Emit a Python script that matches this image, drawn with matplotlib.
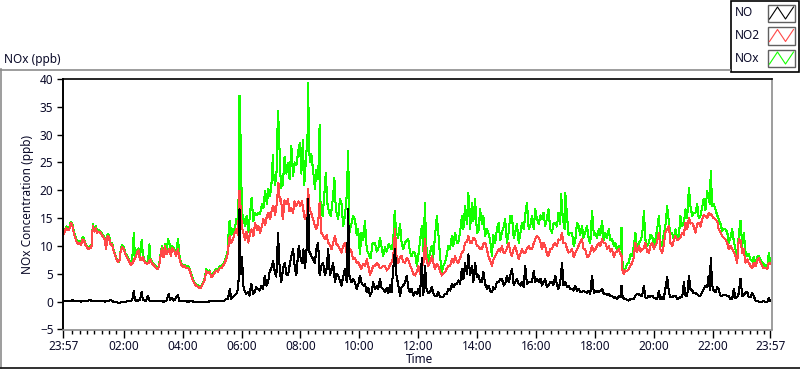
import numpy as np
import matplotlib
matplotlib.use("Agg")
import matplotlib.pyplot as plt
from matplotlib.patches import Rectangle

plt.rcParams['font.family'] = ['Noto Sans', 'DejaVu Sans']

# ---- data: (hours since 23:57, ppb) ----
NO_DATA = [
 (0.0,0.0),(0.1,0.2),(0.2,0.1),(0.3,0.25),(0.4,0.1),(0.5,0.15),(0.6,0.0),(0.7,0.2),(0.8,0.1),(0.9,0.3),
 (1.0,0.05),(1.1,0.2),(1.2,0.1),(1.3,0.2),(1.4,0.0),(1.5,0.1),(1.6,0.3),(1.7,0.0),(1.8,-0.1),(1.9,-0.25),
 (2.0,0.0),(2.1,-0.1),(2.2,0.2),(2.3,0.1),(2.35,0.6),(2.39,2.0),(2.43,0.3),(2.5,0.1),(2.6,0.4),(2.66,1.7),
 (2.7,0.3),(2.8,0.1),(2.87,1.1),(2.92,0.2),(3.0,0.05),(3.1,0.1),(3.2,0.2),(3.3,0.1),(3.4,0.0),(3.5,0.2),
 (3.55,0.9),(3.58,1.4),(3.62,0.3),(3.7,0.6),(3.75,0.2),(3.8,0.5),(3.89,1.2),(3.93,0.2),
 (4.0,0.1),(4.12,0.1),(4.23,0.0),(4.34,0.1),(4.46,-0.05),(4.57,0.0),(4.68,-0.1),(4.8,-0.1),(4.91,0.0),
 (5.02,0.1),(5.14,0.1),(5.25,0.15),(5.36,0.1),(5.48,0.2),(5.53,0.5),(5.59,0.5),(5.65,2.3),(5.70,0.5),
 (5.81,1.1),(5.87,1.4),(5.93,2.3),(5.96,5.0),(5.98,16.6),(6.0,9.4),(6.04,5.0),(6.07,8.0),(6.1,3.0),
 (6.15,2.0),(6.21,1.4),(6.26,1.7),(6.32,1.1),(6.38,3.2),(6.44,1.4),(6.49,1.7),(6.55,2.6),(6.61,2.3),
 (6.67,2.0),(6.72,2.9),(6.78,2.3),(6.84,4.7),(6.89,2.9),(6.95,3.5),(7.0,5.3),(7.06,6.0),(7.12,7.3),
 (7.18,5.3),(7.23,4.5),(7.29,12.4),(7.32,8.0),(7.36,5.0),(7.4,3.5),(7.46,6.0),(7.52,7.0),(7.57,5.0),
 (7.63,4.7),(7.68,6.5),(7.74,8.2),(7.8,9.4),(7.86,6.0),(7.91,4.7),(7.99,10.0),
 (8.05,8.0),(8.1,7.0),(8.15,9.4),(8.2,6.0),(8.25,8.5),(8.31,18.5),(8.35,9.0),(8.42,8.2),(8.48,7.6),
 (8.54,7.0),(8.59,9.5),(8.65,10.6),(8.7,4.7),(8.76,6.5),(8.82,7.0),(8.88,4.7),(8.94,6.0),(8.99,9.4),
 (9.05,4.7),(9.1,5.5),(9.16,7.0),(9.22,3.5),(9.27,5.0),(9.33,4.7),(9.39,3.8),(9.44,2.9),(9.5,4.5),
 (9.56,5.9),(9.62,3.5),(9.67,16.6),(9.71,4.7),(9.78,3.5),(9.84,4.0),(9.9,3.5),(9.96,2.3),(10.01,3.0),
 (10.07,4.7),(10.12,3.5),(10.18,2.9),(10.24,3.2),(10.3,1.7),(10.35,2.5),(10.41,1.1),(10.46,1.6),
 (10.52,3.5),(10.58,2.3),(10.64,2.8),(10.69,2.3),(10.75,4.1),(10.8,2.5),(10.86,2.3),(10.92,1.7),
 (10.98,2.5),(11.03,1.5),(11.09,3.0),(11.14,1.7),(11.2,5.9),(11.26,9.4),(11.31,4.7),(11.37,3.0),
 (11.43,1.1),(11.48,2.5),(11.54,2.9),(11.6,3.5),(11.66,4.7),(11.71,2.5),(11.77,1.7),(11.82,2.3),
 (11.88,1.1),(11.94,1.7),(12.0,1.4),
 (12.05,2.3),(12.11,1.1),(12.17,7.9),(12.22,1.1),(12.28,6.4),(12.33,2.3),(12.39,1.5),(12.45,1.7),
 (12.51,2.6),(12.56,1.5),(12.62,1.0),(12.68,1.1),(12.73,1.7),(12.79,0.8),(12.85,0.8),(12.9,0.9),
 (12.96,1.4),(13.02,1.4),(13.07,2.3),(13.13,2.0),(13.19,3.2),(13.24,2.6),(13.3,3.2),(13.36,3.2),
 (13.41,3.8),(13.47,3.2),(13.53,5.9),(13.58,4.0),(13.64,7.0),(13.7,5.0),(13.75,8.5),(13.81,4.7),
 (13.87,6.4),(13.92,3.5),(13.98,7.0),(14.04,4.4),(14.09,4.7),(14.15,3.5),(14.21,3.5),(14.26,5.3),
 (14.32,3.2),(14.38,2.3),(14.43,2.9),(14.49,2.0),(14.55,1.7),(14.6,2.6),(14.66,2.3),(14.72,3.5),
 (14.78,3.5),(14.83,4.1),(14.89,4.1),(14.95,2.9),(15.0,3.2),(15.06,4.7),(15.12,3.5),(15.17,4.6),
 (15.23,5.9),(15.29,3.0),(15.34,3.5),(15.4,4.1),(15.46,3.2),(15.51,2.9),(15.57,3.5),(15.63,2.6),
 (15.68,6.4),(15.74,3.2),(15.8,3.5),(15.85,3.5),(15.91,3.5),(15.97,5.5),(16.02,3.5),(16.08,4.1),
 (16.14,3.5),
 (16.2,4.1),(16.25,2.9),(16.3,3.5),(16.36,4.1),(16.42,2.6),(16.47,2.9),(16.53,3.5),(16.59,3.5),
 (16.64,3.0),(16.7,4.7),(16.76,2.9),(16.81,2.3),(16.87,3.5),(16.93,7.0),(16.98,3.0),(17.04,3.5),
 (17.1,2.6),(17.15,2.9),(17.21,2.2),(17.27,2.3),(17.33,2.0),(17.38,2.9),(17.44,2.0),(17.49,2.3),
 (17.55,1.8),(17.61,1.7),(17.66,2.0),(17.72,1.7),(17.78,1.6),(17.84,2.0),(17.89,1.4),(17.95,4.7),
 (18.01,1.6),(18.06,1.7),(18.12,2.0),(18.18,1.7),(18.23,1.9),(18.29,2.3),(18.35,1.4),(18.4,1.4),
 (18.46,1.2),(18.52,1.4),(18.57,1.0),(18.63,1.1),(18.69,0.6),(18.74,0.8),(18.8,0.5),(18.86,1.1),
 (18.92,0.8),(18.95,2.9),(18.99,0.8),(19.04,0.5),(19.08,0.5),(19.14,0.3),(19.2,0.2),(19.25,0.5),
 (19.31,0.5),(19.37,0.4),(19.42,1.1),(19.48,1.4),(19.54,1.3),(19.6,1.1),(19.65,1.0),(19.71,2.9),
 (19.76,0.8),(19.82,0.6),(19.88,1.1),(19.93,0.9),(19.99,1.1),(20.05,0.6),(20.1,0.7),(20.16,0.4),
 (20.22,1.9),
 (20.27,0.5),(20.33,0.8),(20.38,0.4),(20.44,2.3),(20.5,4.4),(20.56,1.7),(20.61,0.8),(20.67,0.8),
 (20.73,1.1),(20.78,1.1),(20.84,0.5),(20.9,0.6),(20.95,0.8),(21.01,0.8),(21.07,3.5),(21.12,1.1),
 (21.18,1.0),(21.24,4.7),(21.29,2.3),(21.35,2.0),(21.4,1.5),(21.46,1.5),(21.52,1.4),(21.57,1.1),
 (21.63,1.1),(21.69,1.7),(21.74,2.3),(21.8,2.9),(21.86,2.6),(21.91,4.7),(21.95,2.0),(21.98,7.9),
 (22.03,2.9),(22.08,2.0),(22.14,1.7),(22.2,2.6),(22.25,2.2),(22.31,1.1),(22.37,1.1),(22.42,1.2),
 (22.48,1.2),(22.54,1.0),(22.59,1.0),(22.65,0.5),(22.71,0.5),(22.76,2.3),(22.82,0.6),(22.88,0.8),
 (22.93,1.5),(22.99,4.1),(23.05,1.0),(23.1,1.1),(23.16,1.7),(23.22,1.7),(23.27,0.8),(23.33,0.8),
 (23.39,1.5),(23.44,1.0),(23.5,0.2),(23.56,0.1),(23.61,0.0),(23.67,0.0),(23.73,0.0),(23.78,0.1),
 (23.84,-0.1),(23.9,0.0),(23.95,0.6),(24.0,0.2),
]

NO2_DATA = [
 (0.0,12.0),(0.05,12.6),(0.1,13.2),(0.15,12.8),(0.2,13.0),(0.25,14.1),(0.3,13.8),(0.35,12.4),(0.4,11.5),
 (0.45,10.8),(0.5,10.3),(0.55,10.6),(0.6,10.2),(0.65,11.2),(0.7,11.0),(0.75,10.2),(0.8,9.8),(0.85,9.4),
 (0.9,9.7),(0.95,9.6),(1.0,13.6),(1.05,12.6),(1.1,13.2),(1.15,12.4),(1.2,12.6),(1.25,12.4),(1.3,12.0),
 (1.35,11.6),(1.4,11.2),(1.45,9.5),(1.5,11.8),(1.55,11.5),(1.6,10.2),(1.65,10.4),(1.7,9.2),(1.75,8.4),
 (1.8,7.6),(1.85,7.2),(1.9,7.3),(1.95,9.3),(2.0,9.8),(2.05,9.4),(2.1,8.6),(2.15,8.0),(2.2,7.6),(2.25,7.0),
 (2.3,6.6),(2.35,7.0),(2.4,7.5),(2.45,8.0),(2.5,8.8),(2.55,9.2),(2.6,7.5),(2.65,7.4),(2.7,8.0),(2.75,7.2),
 (2.8,6.9),(2.85,6.8),(2.9,7.0),(2.95,7.6),(3.0,7.0),(3.05,6.6),(3.1,6.4),(3.15,6.0),(3.2,5.8),(3.25,6.4),
 (3.3,8.2),(3.35,9.6),(3.4,8.0),(3.45,10.0),(3.5,8.5),(3.55,9.0),(3.6,9.5),(3.65,8.2),(3.7,9.6),
 (3.78,9.0),(3.83,8.2),(3.89,9.5),(3.95,7.5),(4.0,6.7),(4.06,6.2),(4.12,6.4),(4.17,6.0),(4.23,6.1),
 (4.29,5.6),(4.34,4.7),(4.4,3.8),(4.46,3.2),(4.51,2.8),(4.57,2.7),(4.63,2.4),(4.68,2.6),(4.74,3.2),
 (4.8,4.0),(4.85,5.5),(4.91,5.2),(4.97,5.3),(5.02,4.4),(5.08,4.7),(5.14,5.2),(5.19,5.6),(5.25,5.4),
 (5.31,6.1),(5.36,6.0),(5.42,6.4),(5.48,7.0),(5.53,7.6),(5.59,8.8),(5.62,11.0),(5.65,11.8),(5.7,10.5),
 (5.76,11.2),(5.81,12.2),(5.87,13.0),(5.93,12.0),(5.98,19.9),(6.01,17.5),(6.06,13.5),(6.11,12.4),
 (6.17,11.0),(6.22,12.6),(6.28,10.6),(6.34,12.4),(6.39,13.0),(6.45,11.8),(6.51,14.2),(6.57,12.8),
 (6.62,13.6),(6.68,12.4),(6.74,13.6),(6.79,14.8),(6.85,13.8),(6.91,15.4),(6.96,16.0),(7.02,14.8),
 (7.08,16.6),(7.13,17.2),(7.19,15.6),(7.25,17.8),(7.3,21.4),(7.35,18.0),(7.39,18.4),(7.45,14.8),
 (7.51,18.2),(7.57,17.5),(7.62,18.4),(7.68,16.2),(7.74,16.8),(7.8,16.0),(7.85,18.0),(7.91,17.2),
 (7.99,18.0),
 (8.05,17.2),(8.1,18.0),(8.15,16.4),(8.2,14.8),(8.25,15.2),(8.31,20.2),(8.36,16.6),(8.42,15.8),
 (8.48,14.8),(8.54,13.6),(8.59,13.0),(8.65,14.2),(8.7,17.8),(8.76,12.4),(8.82,11.8),(8.88,11.2),
 (8.94,12.0),(8.99,10.6),(9.05,10.2),(9.1,9.4),(9.16,10.6),(9.22,11.8),(9.27,10.4),(9.33,10.0),
 (9.39,9.4),(9.44,8.8),(9.5,10.0),(9.56,10.6),(9.62,8.6),(9.67,8.2),(9.73,9.4),(9.78,9.0),(9.84,7.6),
 (9.9,7.8),(9.96,7.0),(10.01,7.2),(10.07,6.4),(10.12,5.9),(10.18,6.8),(10.24,6.4),(10.3,7.6),
 (10.35,6.5),(10.41,4.8),(10.46,5.5),(10.52,6.4),(10.58,6.4),(10.64,7.0),(10.69,6.7),(10.75,6.0),
 (10.8,6.1),(10.86,6.4),(10.92,6.4),(10.98,5.6),(11.03,5.9),(11.09,6.6),(11.14,7.0),(11.2,8.0),
 (11.26,13.0),(11.31,8.2),(11.37,7.0),(11.43,8.0),(11.48,8.2),(11.54,7.2),(11.6,7.0),(11.66,7.8),
 (11.71,7.6),(11.77,6.5),(11.82,5.9),(11.88,5.0),(11.94,4.7),(12.0,5.3),
 (12.05,6.4),(12.11,5.0),(12.17,7.0),(12.22,6.5),(12.28,11.2),(12.33,7.6),(12.39,6.4),(12.45,7.0),
 (12.51,8.2),(12.56,7.0),(12.62,5.9),(12.68,6.8),(12.73,6.4),(12.79,5.4),(12.85,4.7),(12.9,5.0),
 (12.96,5.3),(13.02,6.0),(13.07,6.4),(13.13,6.4),(13.19,7.6),(13.24,7.0),(13.3,8.2),(13.36,7.2),
 (13.41,7.0),(13.47,7.8),(13.53,8.8),(13.58,9.0),(13.64,10.6),(13.7,10.8),(13.75,11.8),(13.81,10.5),
 (13.87,10.6),(13.92,11.5),(13.98,11.2),(14.04,10.0),(14.09,10.0),(14.15,9.4),(14.21,9.4),
 (14.26,10.4),(14.32,10.6),(14.38,9.4),(14.43,8.2),(14.49,7.4),(14.55,6.4),(14.6,7.5),(14.66,8.2),
 (14.72,8.8),(14.78,9.4),(14.83,9.0),(14.89,10.0),(14.95,8.8),(15.0,8.8),(15.06,9.6),(15.12,10.6),
 (15.17,9.0),(15.23,8.2),(15.29,9.5),(15.34,10.0),(15.4,8.8),(15.46,7.6),(15.51,8.5),(15.57,9.4),
 (15.63,8.8),(15.68,8.8),(15.74,9.5),(15.8,10.0),(15.85,9.4),(15.91,9.4),(15.97,10.5),(16.02,11.2),
 (16.08,11.8),(16.14,11.5),
 (16.2,10.6),(16.25,9.4),(16.3,10.6),(16.36,10.0),(16.42,8.5),(16.47,8.2),(16.53,9.4),(16.59,9.4),
 (16.64,10.2),(16.7,10.6),(16.76,10.0),(16.81,11.2),(16.87,11.0),(16.93,12.4),(16.98,10.5),
 (17.04,10.6),(17.1,9.5),(17.15,8.8),(17.21,9.0),(17.27,9.4),(17.33,8.0),(17.38,8.8),(17.44,9.4),
 (17.49,10.0),(17.55,10.8),(17.61,11.2),(17.66,9.5),(17.72,9.4),(17.78,8.0),(17.84,8.2),(17.89,8.8),
 (17.95,10.0),(18.01,9.0),(18.06,9.4),(18.12,10.0),(18.18,10.6),(18.23,10.0),(18.29,11.2),
 (18.35,10.5),(18.4,10.6),(18.46,9.5),(18.52,10.0),(18.57,9.0),(18.63,9.4),(18.69,8.0),(18.74,8.8),
 (18.8,9.0),(18.86,9.4),(18.92,8.5),(18.95,8.2),(18.99,5.3),(19.04,5.0),(19.08,5.6),(19.14,5.5),
 (19.2,5.9),(19.25,6.4),(19.31,7.0),(19.37,8.0),(19.42,10.6),(19.48,9.0),(19.54,10.0),(19.6,9.0),
 (19.65,9.4),(19.71,9.6),(19.76,10.6),(19.82,9.0),(19.88,8.8),(19.93,10.0),(19.99,10.6),(20.05,9.5),
 (20.1,10.0),(20.16,10.8),(20.22,12.4),
 (20.27,9.4),(20.33,8.8),(20.38,10.0),(20.44,12.4),(20.5,13.0),(20.56,13.6),(20.61,10.6),(20.67,10.0),
 (20.73,11.0),(20.78,11.8),(20.84,11.0),(20.9,11.2),(20.95,11.5),(21.01,12.4),(21.07,12.0),
 (21.12,14.2),(21.18,13.0),(21.24,15.1),(21.29,14.0),(21.35,14.2),(21.4,13.5),(21.46,12.4),
 (21.52,14.0),(21.57,14.2),(21.63,13.5),(21.69,14.8),(21.74,15.5),(21.8,15.4),(21.86,15.0),
 (21.91,16.0),(21.95,15.5),(21.98,15.8),(22.03,15.4),(22.08,15.0),(22.14,14.8),(22.2,14.5),
 (22.25,13.0),(22.31,12.4),(22.37,11.8),(22.42,11.5),(22.48,11.2),(22.54,10.6),(22.59,9.4),
 (22.65,10.0),(22.71,9.4),(22.76,9.0),(22.82,8.2),(22.88,7.0),(22.93,11.2),(22.99,11.0),(23.05,8.8),
 (23.1,9.4),(23.16,7.0),(23.22,7.6),(23.27,7.0),(23.33,6.4),(23.39,6.0),(23.44,7.0),(23.5,6.4),
 (23.56,7.4),(23.61,7.8),(23.67,7.0),(23.73,6.4),(23.78,6.0),(23.84,6.0),(23.9,5.9),(23.95,7.0),
 (24.0,6.8),
]

NOX_DATA = [
 (0.0,12.3),(0.05,12.9),(0.1,13.5),(0.15,13.1),(0.2,13.4),(0.25,14.4),(0.3,14.1),(0.35,12.7),(0.4,11.8),
 (0.45,11.0),(0.5,10.6),(0.55,10.9),(0.6,10.4),(0.65,11.6),(0.7,11.3),(0.75,10.5),(0.8,10.0),(0.85,9.7),
 (0.9,10.0),(0.95,9.9),(1.0,13.9),(1.05,13.0),(1.1,13.6),(1.15,12.7),(1.2,12.9),(1.25,12.6),(1.3,12.3),
 (1.35,11.9),(1.4,11.4),(1.45,9.8),(1.5,12.2),(1.55,11.8),(1.6,10.6),(1.65,10.6),(1.7,9.4),(1.75,8.6),
 (1.8,7.7),(1.85,7.1),(1.9,7.2),(1.95,9.5),(2.0,10.2),(2.05,9.8),(2.1,8.8),(2.15,8.3),(2.2,7.9),
 (2.25,7.3),(2.3,7.0),(2.35,8.5),(2.39,12.4),(2.43,8.0),(2.5,9.2),(2.55,9.6),(2.6,8.0),(2.66,11.1),
 (2.7,8.5),(2.75,7.4),(2.8,7.1),(2.85,7.0),(2.9,8.5),(2.92,10.3),(2.95,7.9),(3.0,7.2),(3.05,6.8),
 (3.1,6.6),(3.15,6.2),(3.2,6.0),(3.25,6.6),(3.3,8.6),(3.35,10.0),(3.4,8.3),(3.45,10.4),(3.5,8.8),
 (3.55,11.2),(3.6,10.5),(3.65,8.5),(3.7,10.0),
 (3.78,9.3),(3.83,8.5),(3.89,11.3),(3.95,7.8),(4.0,7.0),(4.06,6.5),(4.12,6.6),(4.17,6.2),(4.23,6.4),
 (4.29,5.9),(4.34,5.0),(4.4,4.0),(4.46,3.4),(4.51,3.0),(4.57,2.9),(4.63,2.6),(4.68,2.8),(4.74,3.4),
 (4.8,4.2),(4.85,5.8),(4.91,5.5),(4.97,5.6),(5.02,4.6),(5.08,5.0),(5.14,5.5),(5.19,5.9),(5.25,5.7),
 (5.31,6.4),(5.36,6.3),(5.42,6.7),(5.48,7.3),(5.53,8.0),(5.59,9.3),(5.62,14.2),(5.65,14.5),(5.7,12.0),
 (5.76,13.0),(5.81,12.5),(5.87,14.8),(5.93,14.0),(5.96,22.0),(5.98,37.0),(6.0,25.0),(6.02,30.0),
 (6.06,16.0),(6.11,15.0),(6.17,13.6),(6.22,15.4),(6.28,12.5),(6.34,16.0),(6.39,18.7),(6.45,14.5),
 (6.51,16.0),(6.57,15.5),(6.62,16.0),(6.68,15.8),(6.74,17.5),(6.79,16.8),(6.85,19.9),(6.91,17.5),
 (6.96,20.2),(7.02,19.0),(7.08,22.0),(7.11,26.4),(7.13,23.0),(7.19,21.0),(7.25,24.0),(7.28,34.2),
 (7.32,31.0),(7.35,25.0),(7.39,20.5),(7.45,21.0),(7.51,26.0),(7.57,23.0),(7.62,25.0),(7.68,22.0),
 (7.74,28.0),(7.8,22.5),(7.85,25.0),(7.91,24.5),(7.99,27.6),
 (8.03,28.5),(8.08,23.0),(8.13,29.0),(8.18,21.0),(8.24,26.0),(8.29,30.0),(8.31,39.3),(8.34,28.0),
 (8.37,25.0),(8.42,26.5),(8.48,23.5),(8.54,20.3),(8.59,23.7),(8.65,22.0),(8.7,31.8),(8.73,17.8),
 (8.8,15.4),(8.85,18.5),(8.91,23.2),(8.96,17.8),(9.02,16.0),(9.08,15.4),(9.16,19.0),(9.2,22.3),
 (9.25,16.6),(9.33,14.8),(9.39,18.5),(9.44,17.8),(9.5,13.6),(9.56,15.5),(9.62,19.0),(9.67,27.0),
 (9.71,12.4),(9.78,14.0),(9.84,15.4),(9.9,14.8),(9.96,12.0),(10.01,13.0),(10.07,8.5),(10.12,12.4),
 (10.18,11.0),(10.24,14.5),(10.3,9.4),(10.37,8.5),(10.43,7.8),(10.5,10.5),(10.58,10.6),(10.64,9.0),
 (10.69,9.4),(10.75,11.5),(10.8,10.0),(10.86,8.2),(10.92,9.8),(10.98,9.0),(11.05,10.4),(11.14,9.4),
 (11.2,11.0),(11.25,16.3),(11.3,12.4),(11.37,11.5),(11.43,14.0),(11.48,10.8),(11.54,9.4),(11.6,10.6),
 (11.66,11.0),(11.71,11.2),(11.77,8.8),(11.82,8.2),(11.88,9.0),(11.94,8.8),(12.0,6.4),
 (12.05,8.2),(12.11,11.0),(12.17,13.6),(12.22,9.0),(12.28,17.8),(12.31,10.6),(12.39,7.0),(12.45,9.0),
 (12.51,10.0),(12.56,8.0),(12.62,12.0),(12.68,15.4),(12.73,12.4),(12.79,8.0),(12.85,5.3),(12.9,6.5),
 (12.96,7.0),(13.02,8.5),(13.07,10.0),(13.13,9.5),(13.19,11.8),(13.24,10.0),(13.3,12.4),(13.36,10.6),
 (13.41,10.6),(13.47,12.5),(13.53,15.4),(13.58,13.0),(13.64,17.2),(13.7,14.0),(13.75,19.6),
 (13.81,13.0),(13.87,17.8),(13.92,14.5),(13.98,18.4),(14.04,12.4),(14.09,12.5),(14.15,16.6),
 (14.21,14.0),(14.26,15.4),(14.32,11.8),(14.38,13.0),(14.43,12.4),(14.49,11.0),(14.55,8.2),(14.6,12.0),
 (14.66,10.6),(14.72,13.0),(14.78,14.2),(14.83,11.0),(14.89,12.4),(14.95,13.5),(15.0,14.8),
 (15.06,10.5),(15.12,12.4),(15.17,15.4),(15.23,15.4),(15.29,11.5),(15.34,12.4),(15.4,14.0),
 (15.46,10.6),(15.51,12.0),(15.57,14.2),(15.63,13.0),(15.68,15.5),(15.74,17.8),(15.8,13.0),
 (15.85,13.6),(15.91,15.4),(15.97,13.0),(16.02,16.6),(16.08,14.8),(16.14,14.0),
 (16.2,15.5),(16.25,14.8),(16.3,16.0),(16.36,13.6),(16.42,15.0),(16.47,16.6),(16.53,13.0),(16.59,12.4),
 (16.64,14.0),(16.7,14.2),(16.76,13.5),(16.81,16.0),(16.87,14.0),(16.9,19.3),(16.96,14.8),(17.02,13.0),
 (17.04,19.6),(17.1,15.4),(17.15,12.0),(17.21,12.4),(17.27,12.4),(17.33,10.0),(17.38,11.0),
 (17.44,14.2),(17.49,13.6),(17.55,12.0),(17.61,13.6),(17.66,11.5),(17.72,12.4),(17.78,13.6),
 (17.84,11.2),(17.89,10.5),(17.95,16.3),(18.01,12.0),(18.06,12.4),(18.12,11.5),(18.18,13.0),
 (18.23,12.0),(18.29,14.5),(18.35,11.0),(18.4,12.4),(18.46,11.5),(18.52,13.0),(18.57,11.0),
 (18.63,11.2),(18.69,10.0),(18.74,10.6),(18.8,9.0),(18.86,10.0),(18.92,9.5),(18.95,13.3),(18.99,6.0),
 (19.04,5.9),(19.08,5.9),(19.14,6.8),(19.2,7.0),(19.25,8.5),(19.31,8.2),(19.37,10.0),(19.42,12.4),
 (19.48,9.5),(19.54,10.6),(19.6,11.0),(19.65,11.8),(19.71,16.3),(19.76,11.2),(19.82,10.0),
 (19.88,10.6),(19.93,12.0),(19.99,11.8),(20.05,10.0),(20.1,11.2),(20.16,13.0),(20.22,15.4),
 (20.27,10.8),(20.33,10.0),(20.38,12.0),(20.44,13.6),(20.5,17.2),(20.56,14.2),(20.61,12.0),
 (20.67,12.4),(20.73,11.0),(20.78,13.0),(20.84,11.5),(20.9,11.8),(20.95,15.4),(21.01,13.6),
 (21.07,14.0),(21.12,16.6),(21.18,15.0),(21.24,20.5),(21.29,17.2),(21.35,15.4),(21.4,16.0),
 (21.46,16.0),(21.52,17.5),(21.57,15.0),(21.63,15.4),(21.69,17.0),(21.74,18.4),(21.8,16.5),
 (21.86,19.9),(21.91,18.4),(21.95,17.5),(21.98,23.5),(22.03,17.2),(22.08,17.5),(22.14,16.6),
 (22.2,15.5),(22.25,14.8),(22.31,14.0),(22.37,12.7),(22.42,13.0),(22.48,13.0),(22.54,12.5),
 (22.59,10.6),(22.65,11.5),(22.71,13.0),(22.76,11.0),(22.82,9.4),(22.88,7.6),(22.93,12.0),
 (22.99,14.5),(23.05,10.0),(23.1,12.4),(23.16,9.0),(23.22,8.2),(23.27,8.5),(23.33,7.6),(23.39,7.2),
 (23.44,8.0),(23.5,7.0),(23.56,8.0),(23.61,8.2),(23.67,7.5),(23.73,7.0),(23.78,6.7),(23.84,6.4),
 (23.9,6.2),(23.95,8.8),(24.0,7.0),
]

SERIES_NAMES = ["NO", "NO2", "NOx"]
SERIES_COLORS = {"NO": "#000000", "NO2": "#FF4848", "NOx": "#14FF00"}
XTICK_POS = [0, 2.05, 4.05, 6.05, 8.05, 10.05, 12.05, 14.05, 16.05, 18.05, 20.05, 22.05, 24.0]
XTICK_LABELS = ["23:57", "02:00", "04:00", "06:00", "08:00", "10:00", "12:00",
                "14:00", "16:00", "18:00", "20:00", "22:00", "23:57"]
YTICKS = [-5, 0, 5, 10, 15, 20, 25, 30, 35, 40]

FS = 8.5
TXT = "#0a0a28"
W, H = 800, 369
fig = plt.figure(figsize=(W / 100, H / 100), dpi=100)
fig.patch.set_facecolor("white")

L, R, T, B = 62.5, 772, 79, 329.5
ax = fig.add_axes([L / W, (H - B) / H, (R - L) / W, (B - T) / H])

def unzip(d):
    a = np.array(d)
    return a[:, 0], a[:, 1]

series = {"NO": NO_DATA, "NO2": NO2_DATA, "NOx": NOX_DATA}
for name, z in [("NOx", 1), ("NO2", 2), ("NO", 3)]:
    x, y = unzip(series[name])
    ax.plot(x, y, color=SERIES_COLORS[name], lw=0.75, zorder=z, antialiased=False)

ax.set_xlim(-0.03, 24.06)
ax.set_ylim(-5, 40)
ax.set_xticks(XTICK_POS)
ax.set_xticklabels(XTICK_LABELS)
minor = [0.3 + 0.25 * k for k in range(95)]
minor = [m for m in minor if all(abs(m - p) > 0.05 for p in XTICK_POS)]
ax.set_xticks(minor, minor=True)
ax.set_yticks(YTICKS)
ax.tick_params(axis="x", which="major", length=6, width=1, pad=1.5, labelsize=FS, direction="out", colors="black")
ax.tick_params(axis="x", which="minor", length=3, width=1, direction="out", colors="black")
ax.tick_params(axis="y", which="major", length=4, width=1, pad=2.5, labelsize=FS, direction="out")
for lab in ax.get_xticklabels() + ax.get_yticklabels():
    lab.set_color(TXT)

ax.spines["top"].set_color("black")
ax.spines["top"].set_linewidth(1.2)
ax.spines["left"].set_color("black")
ax.spines["left"].set_linewidth(1.4)
ax.spines["right"].set_color("#8c8c8c")
ax.spines["right"].set_linewidth(1.2)
ax.spines["bottom"].set_color("#8c8c8c")
ax.spines["bottom"].set_linewidth(1.2)

ax.set_ylabel("NOx Concentration (ppb)", fontsize=FS, color=TXT, labelpad=4)
ax.set_xlabel("Time", fontsize=FS, color=TXT, labelpad=0)
ax.xaxis.label.set_ha("left")
ax.xaxis.label.set_va("center")
ax.xaxis.set_label_coords((406 - L) / (R - L), -(359.5 - B) / (B - T))

# overlay for panel frame and legend
ov = fig.add_axes([0, 0, 1, 1], zorder=10)
ov.set_xlim(0, W)
ov.set_ylim(H, 0)
ov.axis("off")
ov.patch.set_alpha(0)

ov.plot([0.5, 0.5], [69, 368], color="#8c8c8c", lw=1.2)
ov.plot([0, 730], [69.5, 69.5], color="#8c8c8c", lw=1.2)
ov.plot([0, 800], [367.8, 367.8], color="#202020", lw=1.3)
ov.text(4, 59, "NOx (ppb)", fontsize=FS, color=TXT, va="center", ha="left")

ov.add_patch(Rectangle((730.5, 0.5), 68, 71, facecolor="white", edgecolor="black", lw=1.2))
for i, name in enumerate(SERIES_NAMES):
    yc = 13 + i * 22.5
    ov.text(735, yc, name, fontsize=FS, color=TXT, va="center", ha="left")
    ov.add_patch(Rectangle((767.5, yc - 8.5), 27.5, 17.5, facecolor="white", edgecolor="#606060", lw=1.0))
    zx = np.array([769.5, 777.5, 785.5, 793.5])
    zy = np.array([yc + 6, yc - 6, yc + 6, yc - 6])
    ov.plot(zx, zy, color=SERIES_COLORS[name], lw=0.8)

fig.savefig("out.png", dpi=100, facecolor="white")
